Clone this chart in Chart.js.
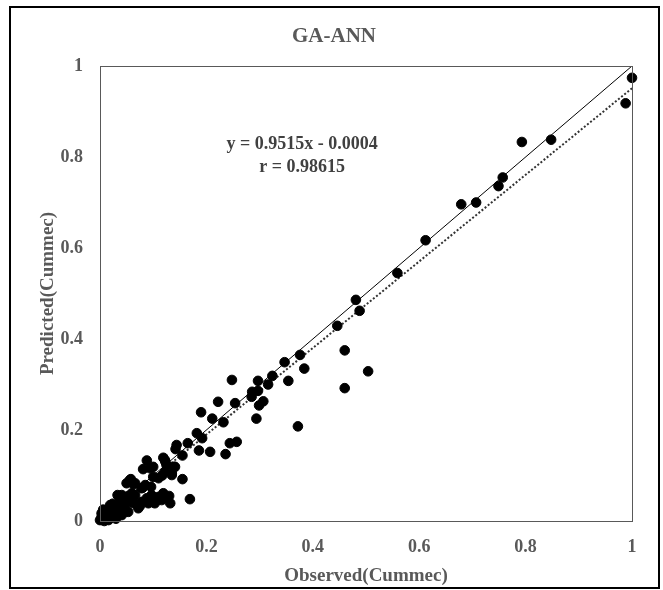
<!DOCTYPE html>
<html>
<head>
<meta charset="utf-8">
<script src="https://cdn.jsdelivr.net/npm/chart.js@4.4.1/dist/chart.umd.min.js"></script>
<style>
  body { margin: 0; background: #ffffff; }
  #wrap { width: 663px; height: 590px; }
</style>
</head>
<body>
<div id="wrap"><canvas id="gaChart" width="663" height="590"></canvas></div>
<script>
// Observed vs predicted (Cummec)
const observed = [
  1.000, 0.988, 0.848, 0.793, 0.757, 0.749, 0.707, 0.679, 0.612, 0.559,
  0.481, 0.488, 0.446, 0.460, 0.504, 0.460, 0.376, 0.384, 0.347, 0.324,
  0.297, 0.354, 0.316, 0.286, 0.297, 0.285, 0.307, 0.299, 0.254, 0.248,
  0.294, 0.372, 0.257, 0.244, 0.222, 0.190, 0.211, 0.232, 0.182, 0.192,
  0.165, 0.144, 0.142, 0.186, 0.207, 0.236, 0.155, 0.119, 0.123, 0.139,
  0.100, 0.135, 0.155, 0.119, 0.130, 0.169,
  0.088, 0.081, 0.117, 0.058, 0.050, 0.063, 0.080, 0.096, 0.033, 0.053,
  0.088, 0.110, 0.132, 0.091, 0.075, 0.060, 0.044, 0.019, 0.028, 0.009,
  0.003, 0.094, 0.122, 0.125, 0.141, 0.122, 0.135, 0.100, 0.110, 0.056,
  0.066, 0.085, 0.078, 0.060, 0.041, 0.050, 0.066, 0.097, 0.119, 0.125,
  0.091, 0.078, 0.063, 0.047, 0.028, 0.016, 0.003, 0.009, 0.022, 0.034,
  0.000, 0.016, 0.028, 0.041, 0.053, 0.072, 0.103, 0.116,
  0.005, 0.010, 0.004, 0.012, 0.020, 0.015, 0.025, 0.006, 0.030, 0.035,
  0.018, 0.002, 0.008, 0.013, 0.040, 0.045, 0.024, 0.038
];
const predicted = [
  0.974, 0.918, 0.838, 0.833, 0.755, 0.736, 0.700, 0.696, 0.617, 0.545,
  0.486, 0.462, 0.429, 0.375, 0.329, 0.292, 0.365, 0.335, 0.349, 0.319,
  0.308, 0.308, 0.300, 0.284, 0.286, 0.273, 0.263, 0.254, 0.259, 0.310,
  0.225, 0.208, 0.174, 0.171, 0.262, 0.239, 0.225, 0.217, 0.193, 0.182,
  0.171, 0.167, 0.158, 0.155, 0.152, 0.147, 0.144, 0.139, 0.130, 0.119,
  0.119, 0.101, 0.092, 0.055, 0.055, 0.048,
  0.133, 0.114, 0.100, 0.092, 0.083, 0.081, 0.073, 0.075, 0.057, 0.055,
  0.050, 0.053, 0.039, 0.039, 0.033, 0.042, 0.037, 0.035, 0.024, 0.020,
  0.009, 0.116, 0.134, 0.123, 0.119, 0.108, 0.105, 0.097, 0.094, 0.090,
  0.083, 0.079, 0.072, 0.061, 0.057, 0.050, 0.057, 0.057, 0.061, 0.053,
  0.046, 0.042, 0.039, 0.035, 0.031, 0.024, 0.017, 0.009, 0.017, 0.024,
  0.002, 0.002, 0.009, 0.013, 0.020, 0.028, 0.039, 0.046,
  0.005, 0.012, 0.015, 0.004, 0.010, 0.020, 0.015, 0.025, 0.005, 0.020,
  0.028, 0.003, 0.000, 0.008, 0.028, 0.020, 0.038, 0.045
];

// 1:1 line and linear trend line end points
const idealX = [0, 1];
const idealY = [0, 1];
const trendX = [0, 1];
const trendY = [-0.0004, 0.9511];

const tickValues = [0, 0.2, 0.4, 0.6, 0.8, 1];
const chartTitle = "GA-ANN";
const xTitle = "Observed(Cummec)";
const yTitle = "Predicted(Cummec)";
const eqLines = ["y = 0.9515x - 0.0004", "r = 0.98615"];

const serif = "'Liberation Serif', 'Times New Roman', serif";
const grey = "#595959";

function toPoints(xs, ys) {
  return xs.map((x, i) => ({ x: x, y: ys[i] }));
}

// draws the outer frame, plot box, title and equation text
const decorPlugin = {
  id: "decor",
  afterDraw(chart) {
    const ctx = chart.ctx;
    const area = chart.chartArea;
    const xs = chart.scales.x;
    const ys = chart.scales.y;
    ctx.save();
    ctx.strokeStyle = grey;
    ctx.lineWidth = 1;
    ctx.strokeRect(area.left + 0.5, area.top + 0.5, area.right - area.left, area.bottom - area.top);

    ctx.strokeStyle = "#000000";
    ctx.lineWidth = 2;
    ctx.strokeRect(10, 7, 649, 581);

    ctx.fillStyle = grey;
    ctx.textAlign = "center";
    ctx.textBaseline = "middle";
    ctx.font = "bold 21px " + serif;
    ctx.fillText(chartTitle, 334, 37);

    ctx.fillStyle = "#404040";
    ctx.font = "bold 18px " + serif;
    ctx.fillText(eqLines[0], xs.getPixelForValue(0.38), ys.getPixelForValue(0.827));
    ctx.fillText(eqLines[1], xs.getPixelForValue(0.38), ys.getPixelForValue(0.778));
    ctx.restore();
  }
};

const config = {
  type: "scatter",
  data: {
    datasets: [
      {
        label: "data",
        data: toPoints(observed, predicted),
        backgroundColor: "#000000",
        borderColor: "#000000",
        pointRadius: 4.8,
        pointHoverRadius: 4.8,
        clip: false,
        order: 1
      },
      {
        type: "line",
        label: "1:1",
        data: toPoints(idealX, idealY),
        borderColor: "#000000",
        borderWidth: 1,
        pointRadius: 0,
        fill: false,
        order: 2
      },
      {
        type: "line",
        label: "trend",
        data: toPoints(trendX, trendY),
        borderColor: "#333333",
        borderWidth: 2,
        borderDash: [2, 2],
        pointRadius: 0,
        fill: false,
        order: 3
      }
    ]
  },
  options: {
    responsive: false,
    animation: false,
    layout: { padding: { top: 66, right: 31, left: 0, bottom: 0 } },
    plugins: {
      legend: { display: false },
      title: { display: false },
      tooltip: { enabled: false }
    },
    scales: {
      x: {
        type: "linear",
        min: 0,
        max: 1,
        afterBuildTicks: (scale) => { scale.ticks = tickValues.map((v) => ({ value: v })); },
        afterFit: (scale) => { scale.height = 69; },
        grid: { display: false, drawTicks: false },
        border: { display: true, color: grey, width: 1 },
        ticks: {
          padding: 16,
          color: grey,
          font: { family: serif, size: 18, weight: "bold" },
          callback: (v) => String(v)
        },
        title: {
          display: true,
          text: xTitle,
          color: grey,
          padding: { top: 0, bottom: 3 },
          font: { family: serif, size: 19, weight: "bold" }
        }
      },
      y: {
        type: "linear",
        min: 0,
        max: 1,
        afterBuildTicks: (scale) => { scale.ticks = tickValues.map((v) => ({ value: v })); },
        afterFit: (scale) => { scale.width = 100; },
        grid: { display: false, drawTicks: false },
        border: { display: true, color: grey, width: 1 },
        ticks: {
          padding: 17,
          color: grey,
          font: { family: serif, size: 18, weight: "bold" },
          callback: (v) => String(v)
        },
        title: {
          display: true,
          text: yTitle,
          color: grey,
          padding: { top: 37, bottom: 0 },
          font: { family: serif, size: 19, weight: "bold" }
        }
      }
    }
  },
  plugins: [decorPlugin]
};

document.addEventListener("DOMContentLoaded", () => {
  new Chart(document.getElementById("gaChart"), config);
});
</script>
</body>
</html>
